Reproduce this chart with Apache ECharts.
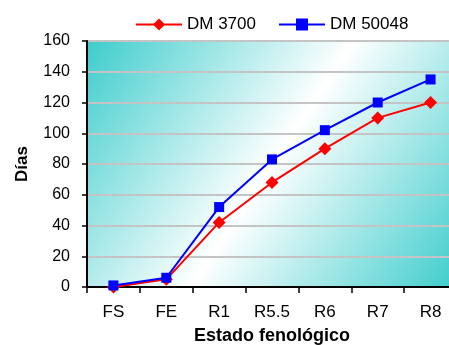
<!DOCTYPE html>
<html>
<head>
<meta charset="utf-8">
<script src="https://cdn.jsdelivr.net/npm/echarts@6/dist/echarts.min.js"></script>
<style>
html,body{margin:0;padding:0;background:#fff;}
#chart{width:449px;height:345px;}
</style>
</head>
<body>
<div id="chart"></div>
<script>
var categories = ['FS', 'FE', 'R1', 'R5.5', 'R6', 'R7', 'R8'];
var dm3700 = [0, 5, 42, 68, 90, 110, 120];
var dm50048 = [1, 6, 52, 83, 102, 120, 135];
var yTicks = { min: 0, max: 160, interval: 20 };

var chart = echarts.init(document.getElementById('chart'), null, { renderer: 'canvas' });
var font = 'Liberation Sans, Arial, sans-serif';
chart.setOption({
  animation: false,
  backgroundColor: '#ffffff',
  legend: {
    left: 130, top: 11,
    itemWidth: 46, itemHeight: 15, itemGap: 22,
    textStyle: { fontFamily: font, fontSize: 17, color: '#000' },
    data: ['DM 3700', 'DM 50048']
  },
  grid: {
    left: 87, top: 41, bottom: 58, right: -8,
    containLabel: false,
    outerBoundsMode: 'none',
    show: true, borderWidth: 0,
    backgroundColor: {
      type: 'linear', x: 0, y: 0, x2: 1, y2: 1,
      colorStops: [
        { offset: 0, color: '#3ecccc' },
        { offset: 0.5, color: '#ffffff' },
        { offset: 1, color: '#3ecccc' }
      ]
    }
  },
  xAxis: {
    type: 'category',
    data: categories,
    boundaryGap: true,
    name: 'Estado fenológico',
    nameLocation: 'middle',
    nameGap: 40,
    nameTextStyle: { fontFamily: font, fontSize: 18, fontWeight: 'bold', color: '#000' },
    axisLine: { lineStyle: { color: '#000', width: 2 } },
    axisTick: { show: true, length: 6, interval: 0, lineStyle: { color: '#000', width: 1.5 } },
    axisLabel: { fontFamily: font, fontSize: 17, color: '#000', margin: 17, interval: 0 },
    splitLine: { show: false }
  },
  yAxis: {
    type: 'value',
    min: yTicks.min, max: yTicks.max, interval: yTicks.interval,
    name: 'Días',
    nameLocation: 'middle',
    nameGap: 56,
    nameRotate: 90,
    nameTextStyle: { fontFamily: font, fontSize: 17, fontWeight: 'bold', color: '#000' },
    axisLine: { show: true, lineStyle: { color: '#000', width: 2 } },
    axisTick: { show: true, length: 5, lineStyle: { color: '#000', width: 1.5 } },
    axisLabel: { fontFamily: font, fontSize: 16, color: '#000', margin: 17 },
    splitLine: { show: true, lineStyle: { color: '#c4c4c4', width: 2 } }
  },
  series: [
    {
      name: 'DM 3700', type: 'line', data: dm3700,
      symbol: 'diamond', symbolSize: 13,
      itemStyle: { color: '#ff0000' },
      lineStyle: { color: '#ff0000', width: 2 },
      z: 2
    },
    {
      name: 'DM 50048', type: 'line', data: dm50048,
      symbol: 'rect', symbolSize: 10,
      itemStyle: { color: '#0000ff' },
      lineStyle: { color: '#0000ff', width: 2 },
      z: 3
    }
  ]
});
</script>
</body>
</html>
